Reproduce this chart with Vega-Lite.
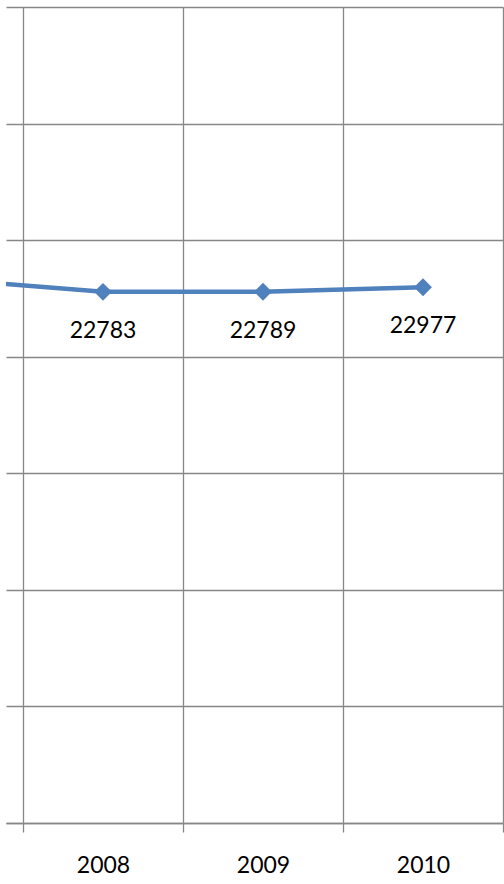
{
  "$schema": "https://vega.github.io/schema/vega-lite/v6.json",
  "width": 497,
  "height": 816,
  "padding": {"left": 6, "top": 7, "right": 1, "bottom": 61},
  "autosize": {"type": "none"},
  "background": "white",
  "config": {"view": {"stroke": null}},
  "data": {
    "values": [
      {"year": 2007, "value": 23340},
      {"year": 2008, "value": 22783},
      {"year": 2009, "value": 22789},
      {"year": 2010, "value": 22977}
    ]
  },
  "encoding": {
    "x": {
      "field": "year",
      "type": "quantitative",
      "scale": {"domain": [2007.39375, 2010.5], "nice": false, "zero": false},
      "axis": {
        "values": [2007.5, 2008, 2008.5, 2009, 2009.5, 2010, 2010.5],
        "labelExpr": "(datum.value % 1) == 0 ? '' + datum.value : ''",
        "grid": true,
        "gridColor": "#878787",
        "gridWidth": 1.3,
        "gridOpacity": {"condition": {"test": "datum.value % 1 !== 0", "value": 1}, "value": 0},
        "tickOpacity": {"condition": {"test": "datum.value % 1 !== 0", "value": 1}, "value": 0},
        "tickColor": "#878787",
        "tickWidth": 1.3,
        "tickSize": 9,
        "domainColor": "#878787",
        "domainWidth": 1.3,
        "title": null,
        "labelFont": "Lato",
        "labelFontSize": 23,
        "labelFontWeight": "normal",
        "labelColor": "#000000",
        "labelPadding": 22,
        "labelOverlap": false
      }
    },
    "y": {
      "field": "value",
      "type": "quantitative",
      "scale": {"domain": [0, 35000], "nice": false},
      "axis": {
        "values": [0, 5000, 10000, 15000, 20000, 25000, 30000, 35000],
        "grid": true,
        "gridColor": "#878787",
        "gridWidth": 1.3,
        "labels": false,
        "ticks": false,
        "domain": false,
        "title": null
      }
    }
  },
  "layer": [
    {"mark": {"type": "line", "color": "#4F81BD", "strokeWidth": 4.5, "clip": true}},
    {
      "transform": [{"filter": "datum.year >= 2008"}],
      "mark": {"type": "point", "shape": "diamond", "filled": true, "size": 320, "color": "#4F81BD", "opacity": 1}
    },
    {
      "transform": [{"filter": "datum.year >= 2008"}],
      "mark": {"type": "text", "dy": 39, "baseline": "middle", "font": "Lato", "fontSize": 23, "color": "black"},
      "encoding": {"text": {"field": "value", "type": "quantitative", "format": "d"}}
    }
  ]
}
